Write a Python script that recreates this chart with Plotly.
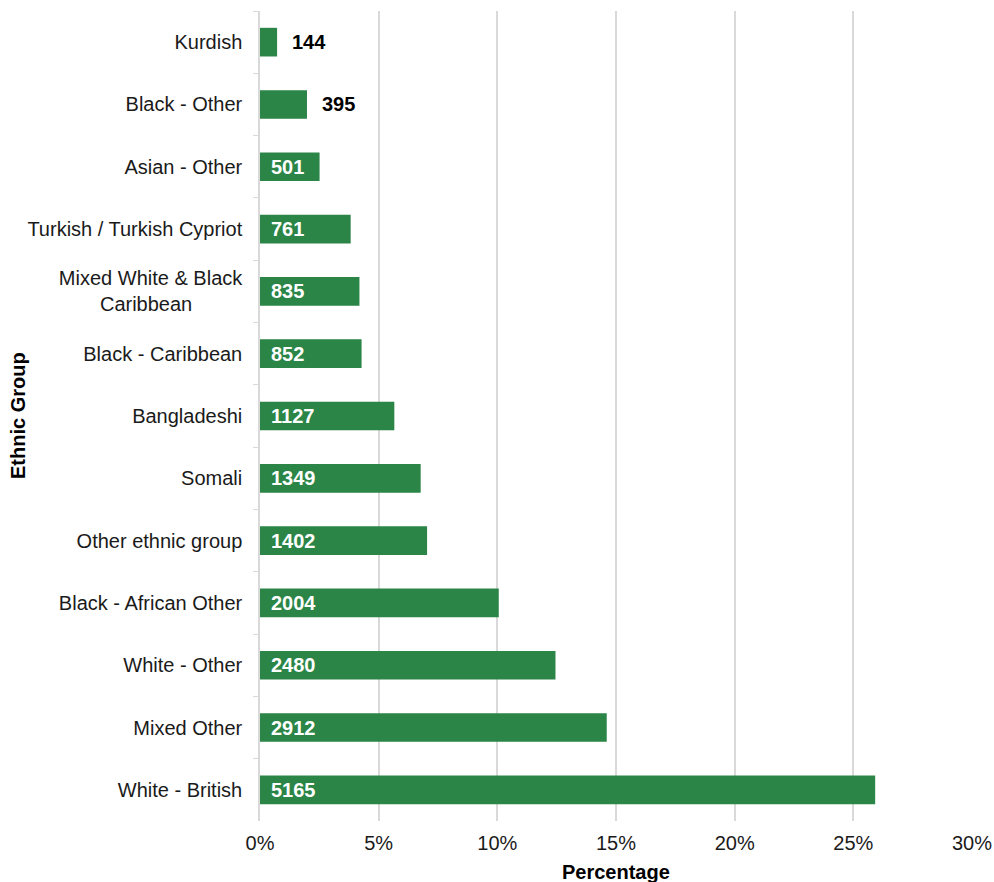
import plotly.graph_objects as go

groups = ["Kurdish", "Black - Other", "Asian - Other", "Turkish / Turkish Cypriot",
          "Mixed White & Black<br>Caribbean" + "\u00a0" * 9, "Black - Caribbean", "Bangladeshi",
          "Somali", "Other ethnic group", "Black - African Other", "White - Other",
          "Mixed Other", "White - British"]
counts = [144, 395, 501, 761, 835, 852, 1127, 1349, 1402, 2004, 2480, 2912, 5165]
percent = [0.72, 1.98, 2.51, 3.82, 4.19, 4.28, 5.66, 6.77, 7.04, 10.06, 12.45, 14.61, 25.92]
x_ticks = [0, 0.05, 0.10, 0.15, 0.20, 0.25, 0.30]

GREEN = "#2a8547"
FONT = "Liberation Sans, Arial, sans-serif"
FS = 20

fig = go.Figure(go.Bar(
    y=groups, x=[p / 100 for p in percent], orientation="h",
    marker=dict(color=GREEN, line=dict(width=0)), width=0.46,
    hoverinfo="skip",
))

annotations = []
for g, c, p in zip(groups, counts, percent):
    inside = p > 2.2
    annotations.append(dict(
        x=0 if inside else p / 100, y=g, xref="x", yref="y",
        text=f"<b>{c}</b>", showarrow=False, xanchor="left",
        xshift=9 if inside else 13,
        font=dict(family=FONT, size=FS, color="white" if inside else "black"),
    ))

annotations.append(dict(
    x=0, y=0.5, xref="paper", yref="paper", text="<b>Ethnic Group</b>",
    showarrow=False, textangle=-90, xanchor="center", yanchor="middle",
    xshift=-242, font=dict(family=FONT, size=FS, color="black"),
))
annotations.append(dict(
    x=0.5, y=0, xref="paper", yref="paper", text="<b>Percentage</b>",
    showarrow=False, xanchor="center", yanchor="middle",
    yshift=-51, font=dict(family=FONT, size=FS, color="black"),
))

fig.update_layout(
    width=994, height=882,
    margin=dict(l=260, r=22, t=11, b=61, autoexpand=False),
    paper_bgcolor="white", plot_bgcolor="white",
    font=dict(family=FONT, size=FS, color="black"),
    showlegend=False,
    annotations=annotations,
    xaxis=dict(
        range=[0, 0.30], tickvals=x_ticks, automargin=False,
        tickformat=".0%", showgrid=True, gridcolor="#d9d9d9", gridwidth=1.5,
        zeroline=False, showline=False, ticks="",
        ticklabelstandoff=8,
        tickfont=dict(size=FS, color="#1a1a1a"),
    ),
    yaxis=dict(
        autorange="reversed", type="category", automargin=False,
        showline=True, linecolor="#d9d9d9", linewidth=1.5,
        ticks="outside", tickson="boundaries", ticklen=5, tickcolor="#d9d9d9",
        showgrid=False, ticklabelstandoff=12,
        tickfont=dict(size=FS, color="#1a1a1a"),
    ),
)

fig.write_html(
    "out.html",
    config={"displayModeBar": False},
    post_script="document.body.style.margin='0';document.body.style.overflow='hidden';",
)
